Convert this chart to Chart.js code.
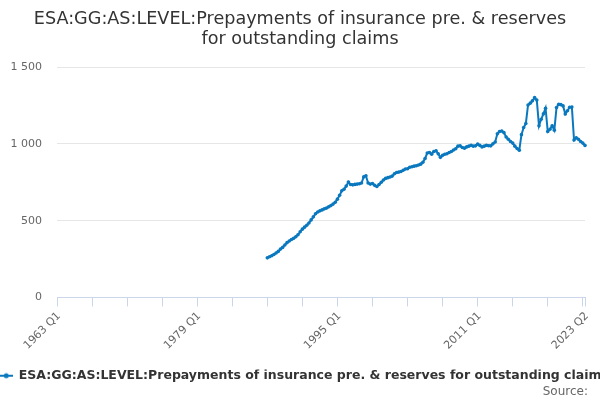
<!DOCTYPE html>
<html>
<head>
<meta charset="utf-8">
<script src="https://cdn.jsdelivr.net/npm/chart.js@4.4.0/dist/chart.umd.min.js"></script>
<style>
  html, body { margin: 0; padding: 0; background: #ffffff; }
  #wrap { width: 600px; height: 400px; }
</style>
</head>
<body>
<div id="wrap"><canvas id="chart" width="600" height="400"></canvas></div>
<script>
// quarters on the axis: 1963 Q1 .. 2023 Q2
var firstYear = 1963;
var lastYear = 2023;
var lastQuarter = 2;

// series starts at 1987 Q1
var seriesStart = '1987 Q1';
var seriesName = 'ESA:GG:AS:LEVEL:Prepayments of insurance pre. & reserves for outstanding claims';
var sourceText = 'Source:';

// values, 1987 Q1 .. 2023 Q2
var values = [
  258, 265, 272, 280, 290, 300, 315, 326, 342, 357, 368, 377,
  385, 395, 408, 428, 445, 458, 470, 485, 505, 525, 545, 556,
  564, 570, 577, 582, 590, 598, 608, 620, 640, 665, 695, 705,
  725, 752, 735, 733, 736, 738, 740, 745, 785, 792, 745, 738,
  742, 730, 722, 735, 750, 765, 775, 780, 784, 790, 805, 814,
  816, 820, 828, 836, 838, 848, 851, 855, 857, 862, 868, 880,
  905, 940, 944, 933, 950, 955, 935, 912, 925, 932, 936, 944,
  950, 960, 968, 985, 987, 976, 972, 980, 985, 991, 985, 987,
  998, 990, 980, 985, 991, 988, 987, 1000, 1012, 1065, 1080, 1084,
  1073, 1045, 1030, 1015, 1005, 985, 970, 958, 1060, 1106, 1132, 1253,
  1265, 1280, 1301, 1285, 1117, 1160, 1195, 1232, 1080, 1095, 1117, 1089,
  1236, 1258, 1255, 1247, 1195, 1215, 1238, 1240, 1025, 1040, 1030, 1015,
  1005, 990
];

// tick labels shown on the x axis
var shownLabels = ['1963 Q1', '1979 Q1', '1995 Q1', '2011 Q1', '2023 Q2'];
var yTicks = [0, 500, 1000, 1500];

var labels = [];
for (var y = firstYear; y <= lastYear; y++) {
  for (var q = 1; q <= 4; q++) {
    if (y === lastYear && q > lastQuarter) break;
    labels.push(y + ' Q' + q);
  }
}

var startIdx = labels.indexOf(seriesStart);
var data = [];
for (var i = 0; i < labels.length; i++) {
  data.push(i < startIdx ? null : values[i - startIdx]);
}

var blue = '#0a78be';

function makeLegendMark() {
  var c = document.createElement('canvas');
  c.width = 14; c.height = 8;
  var g = c.getContext('2d');
  g.strokeStyle = blue;
  g.lineWidth = 2;
  g.beginPath(); g.moveTo(0, 4); g.lineTo(14, 4); g.stroke();
  g.fillStyle = blue;
  g.beginPath(); g.arc(7, 4, 2.5, 0, Math.PI * 2); g.fill();
  return c;
}

// "Source:" credit sits a little in from the right edge
var creditPlugin = {
  id: 'credit',
  afterDraw: function (chart) {
    var ctx = chart.ctx;
    ctx.save();
    ctx.font = '12px "DejaVu Sans"';
    ctx.fillStyle = '#666666';
    ctx.textAlign = 'right';
    ctx.textBaseline = 'middle';
    ctx.fillText(sourceText, chart.width - 12, chart.height - 8);
    ctx.restore();
  }
};

var chart = new Chart(document.getElementById('chart'), {
  type: 'line',
  data: {
    labels: labels,
    datasets: [{
      label: seriesName,
      data: data,
      yAxisID: 'y',
      borderColor: blue,
      backgroundColor: blue,
      borderWidth: 2,
      pointRadius: 1.8,
      pointHoverRadius: 3,
      pointBackgroundColor: blue,
      pointBorderWidth: 0,
      tension: 0,
      fill: false
    }]
  },
  plugins: [creditPlugin],
  options: {
    responsive: false,
    animation: false,
    devicePixelRatio: 1,
    layout: { padding: { left: 0, right: 0, top: 8, bottom: 8 } },
    plugins: {
      title: {
        display: true,
        text: ['ESA:GG:AS:LEVEL:Prepayments of insurance pre. & reserves', 'for outstanding claims'],
        color: '#333333',
        font: { family: 'DejaVu Sans', size: 17.6, weight: 'normal', lineHeight: 1.12 },
        padding: { top: 2, bottom: 17.6 }
      },
      legend: {
        display: true,
        position: 'bottom',
        align: 'start',
        labels: {
          usePointStyle: true,
          pointStyle: makeLegendMark(),
          color: '#333333',
          font: { family: 'DejaVu Sans', size: 12.5, weight: 'bold' },
          padding: 0
        }
      },
      tooltip: { enabled: false }
    },
    scales: {
      x: {
        type: 'category',
        afterFit: function (scale) { scale.height = 72; },
        grid: {
          display: true,
          drawOnChartArea: false,
          drawTicks: true,
          tickLength: 9,
          color: '#ccd6eb'
        },
        border: { display: true, color: '#ccd6eb', width: 1 },
        ticks: {
          autoSkip: false,
          minRotation: 45,
          maxRotation: 45,
          padding: 3,
          labelOffset: 2,
          color: '#666666',
          font: { family: 'DejaVu Sans', size: 11 },
          callback: function (val, idx) {
            var lab = labels[idx];
            if (shownLabels.indexOf(lab) >= 0) return lab;
            if (idx % 16 === 0) return '';
            return null;
          }
        }
      },
      y: {
        min: yTicks[0],
        max: yTicks[yTicks.length - 1],
        afterFit: function (scale) { scale.width = 57; },
        afterBuildTicks: function (scale) {
          scale.ticks = yTicks.map(function (v) { return { value: v }; });
        },
        grid: { color: '#e6e6e6', drawTicks: false },
        border: { display: false },
        ticks: {
          padding: 15,
          color: '#666666',
          font: { family: 'DejaVu Sans', size: 11 },
          callback: function (v) {
            return String(v).replace(/\B(?=(\d{3})+(?!\d))/g, ' ');
          }
        }
      },
      // empty right-hand strip so the plot stops short of the edge
      yRight: {
        position: 'right',
        afterFit: function (scale) { scale.width = 15; },
        grid: { display: false },
        border: { display: false },
        ticks: { display: false }
      }
    }
  }
});
</script>
</body>
</html>
